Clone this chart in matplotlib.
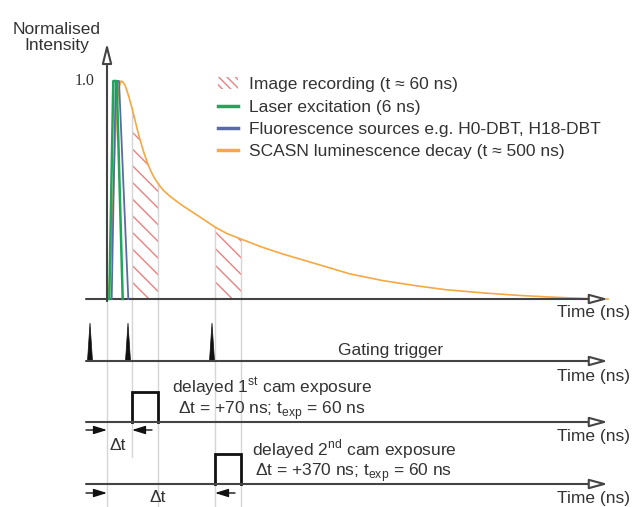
import numpy as np
import matplotlib
matplotlib.use('Agg')
import matplotlib.pyplot as plt
from matplotlib.patches import Patch
from matplotlib.lines import Line2D

plt.rcParams['font.family'] = ['Liberation Sans', 'DejaVu Sans']
plt.rcParams['mathtext.fontset'] = 'custom'
plt.rcParams['mathtext.rm'] = 'Liberation Sans'
plt.rcParams['hatch.linewidth'] = 1.0

# schematic time axis (arb. units, 0 = start of laser pulse)
t_decay = [0, 2, 4, 6, 8, 10, 12, 14, 16, 18, 20, 22, 25, 28, 31, 34, 37, 40, 43, 47, 51,
           56, 62, 69, 76, 90, 108, 120, 134, 155, 176, 210, 243, 275, 310, 340, 376, 410,
           443, 480, 501]
i_decay = [0, 0.05, 0.2, 0.45, 0.70, 0.88, 0.97, 1.0, 0.995, 0.98, 0.955, 0.925, 0.876, 0.82,
           0.765, 0.715, 0.67, 0.63, 0.595, 0.558, 0.53, 0.50, 0.475, 0.45, 0.427, 0.385, 0.33,
           0.30, 0.275, 0.238, 0.206, 0.16, 0.115, 0.085, 0.060, 0.042, 0.028, 0.017, 0.009,
           0.002, 0.0]
t_laser = [2.3, 6.3, 9.7, 15.7]
i_laser = [0, 1, 1, 0]
t_fluo = [4.7, 8.7, 12, 21.3]
i_fluo = [0, 1, 1, 0]

windows = [(25, 51), (108, 134)]          # image recording windows
trigger_times = [-17, 21, 105]
trigger_halfwidth = 2.5
guide_times = [0, 25, 51, 108, 134]
guide_ends = [507, 457, 507, 507, 507]    # px, bottom end of guide lines

legend_labels = ['Image recording (t \u2248 60 ns)', 'Laser excitation (6 ns)',
                 'Fluorescence sources e.g. H0-DBT, H18-DBT',
                 'SCASN luminescence decay (t \u2248 500 ns)']
exposure_labels = ['delayed 1$^{\\mathregular{st}}$ cam exposure\n'
                   '$\\mathregular{\\Delta}$t = +70 ns; t$_{\\mathregular{exp}}$ = 60 ns',
                   'delayed 2$^{\\mathregular{nd}}$ cam exposure\n'
                   '$\\mathregular{\\Delta}$t = +370 ns; t$_{\\mathregular{exp}}$ = 60 ns']

c_green = '#1fa65a'
c_blue = '#5a6aa3'
c_orange = '#f5a843'
c_hatch = '#ec8080'
c_axis = '#444444'
c_text = '#333333'
c_guide = '#d6d6d6'
FS = 12.5

W, H = 635, 507
X0, X1 = -107, 528          # data x range across the full figure width
T_START, T_END = -21, 501

fig = plt.figure(figsize=(W / 100, H / 100), dpi=100)


def row_axes(base_px, unit_px, top_px, bottom_px):
    ax = fig.add_axes([0, 1 - bottom_px / H, 1, (bottom_px - top_px) / H])
    ax.set_xlim(X0, X1)
    ax.set_ylim(-(bottom_px - base_px) / unit_px, (base_px - top_px) / unit_px)
    ax.axis('off')
    return ax


def time_axis(ax, y=0):
    ax.annotate('', xy=(T_END, y), xytext=(T_START, y),
                arrowprops=dict(arrowstyle='-|>,head_length=1.1,head_width=0.3',
                                fc='white', ec=c_axis, lw=1.5, shrinkA=0, shrinkB=0,
                                mutation_scale=10))


def delta_arrow(ax, x_from, x_to, y):
    ax.annotate('', xy=(x_to, y), xytext=(x_from, y),
                arrowprops=dict(arrowstyle='-|>,head_length=0.8,head_width=0.25',
                                fc='#111111', ec='#111111', lw=1.0, shrinkA=0, shrinkB=0,
                                mutation_scale=10))


# background axes in pixel units for guides and labels
bg = fig.add_axes([0, 0, 1, 1])
bg.set_xlim(X0, X1)
bg.set_ylim(H, 0)
bg.axis('off')
for t, yend in zip(guide_times, guide_ends):
    bg.plot([t, t], [299, yend], color=c_guide, lw=1.0, zorder=0)

# ---- main intensity plot
ax = row_axes(299, 218, 20, 310)
td = np.array(t_decay)
for (a, b) in windows:
    m = (td >= a) & (td <= b)
    ax.fill_between(td[m], 0, np.array(i_decay)[m], facecolor='none',
                    edgecolor=c_hatch, lw=0, hatch='\\\\', zorder=1)
for t in guide_times[1:]:
    ax.plot([t, t], [0, np.interp(t, t_decay, i_decay)], color=c_guide, lw=1.0, zorder=1)
ax.plot(t_decay, i_decay, color=c_orange, lw=1.2, zorder=3)
ax.plot(t_fluo, i_fluo, color=c_blue, lw=1.3, zorder=4)
ax.plot(t_laser, i_laser, color=c_green, lw=1.8, zorder=5)
time_axis(ax)
ax.annotate('', xy=(0, 1.174), xytext=(0, -0.01),
            arrowprops=dict(arrowstyle='-|>,head_length=1.2,head_width=0.3',
                            fc='white', ec=c_axis, lw=1.5, shrinkA=0, shrinkB=0,
                            mutation_scale=10))
ax.text(-12, 1.0, '1.0', ha='right', va='center', fontsize=11.5,
        family='Liberation Serif', color=c_text)
ax.text(-50, 1.2, 'Normalised\nIntensity', ha='center', va='center', fontsize=FS,
        color=c_text, linespacing=1.05)

handles = [Patch(facecolor='none', edgecolor=c_hatch, lw=0, hatch='\\\\\\\\'),
           Line2D([], [], color=c_green, lw=2.5),
           Line2D([], [], color=c_blue, lw=2.5),
           Line2D([], [], color=c_orange, lw=2.5)]
fig.legend(handles, legend_labels, loc='upper left', bbox_to_anchor=(218 / W, 1 - 77 / H),
           frameon=False, borderpad=0, borderaxespad=0, handlelength=1.15,
           handletextpad=0.65, labelspacing=0.42, fontsize=FS, labelcolor=c_text)

# ---- gating trigger row
ax_tr = row_axes(361, 38, 315, 372)
for t in trigger_times:
    ax_tr.fill([t - trigger_halfwidth, t, t + trigger_halfwidth], [0, 1, 0],
               color='#111111', lw=0.5)
time_axis(ax_tr)

# ---- camera exposure rows
ax_e1 = row_axes(422, 30, 385, 435)
ax_e2 = row_axes(484, 30, 447, 497)
for axe, (a, b) in zip([ax_e1, ax_e2], windows):
    axe.plot([a, a, b, b], [0, 1, 1, 0], color='#111111', lw=2.0, solid_joinstyle='miter')
    time_axis(axe)

delta_arrow(bg, T_START, 0, 430)
delta_arrow(bg, windows[0][0] + 20, windows[0][0], 430)
delta_arrow(bg, T_START, 0, 493)
delta_arrow(bg, windows[1][0] + 20, windows[1][0], 493)

# ---- labels
for y in [313, 377, 437, 498]:
    bg.text(523, y, 'Time (ns)', ha='right', va='center', fontsize=FS, color=c_text)
bg.text(284, 350, 'Gating trigger', ha='center', va='center', fontsize=FS, color=c_text)
bg.text(165, 399, exposure_labels[0], ha='center', va='center', fontsize=FS,
        color=c_text, linespacing=1.0)
bg.text(247, 461, exposure_labels[1], ha='center', va='center', fontsize=FS,
        color=c_text, linespacing=1.0)
bg.text(11, 445, '\u0394t', ha='center', va='center', fontsize=FS, color=c_text)
bg.text(51, 498, '\u0394t', ha='center', va='center', fontsize=FS, color=c_text)

fig.savefig('out.png', dpi=100)
